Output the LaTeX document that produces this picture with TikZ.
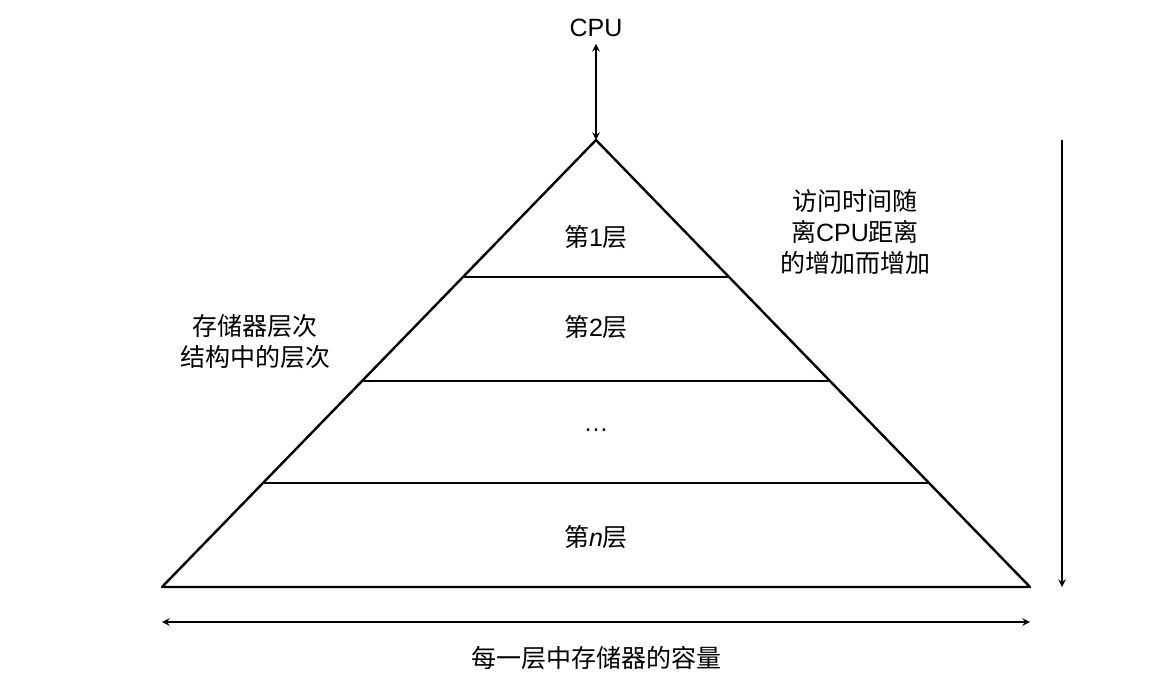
\documentclass[tikz,border=0pt]{standalone}
\usepackage{fontspec}
\setmainfont{Noto Sans CJK SC}
\newfontfamily\lat{Liberation Sans}
\begin{document}
\begin{tikzpicture}[x=0.5pt,y=-0.5pt,
  ln/.style={line width=1.2pt},
  ar/.style={line width=0.7pt,<->,>=stealth},
  lbl/.style={font=\fontsize{12.5}{15.5}\selectfont,align=center}]
\useasboundingbox (0,0) rectangle (1174,687);
\coordinate (A) at (596,140);
\coordinate (L) at (162,587);
\coordinate (R) at (1030,587);
\draw[ln,line join=round] (A) -- (L) -- (R) -- cycle;
\coordinate (l1) at (463,277); \coordinate (r1) at (729,277);
\coordinate (l2) at (362,381); \coordinate (r2) at (830,381);
\coordinate (l3) at (263,483); \coordinate (r3) at (929,483);
\draw[ln] (l1)--(r1) (l2)--(r2) (l3)--(r3);
\node[lbl] (cpu) at (596,28) {{\lat CPU}};
\draw[ar] (cpu.south) -- (A);
\node[lbl] (t1) at (596,237) {第{\lat 1}层};
\node[lbl] (t2) at (596,327) {第{\lat 2}层};
\node[lbl] (t3) at (596,430) {{\lat\textellipsis}};
\node[lbl] (t4) at (596,537) {第{\lat\itshape n}层};
\node[lbl] (lt) at (255,342) {存储器层次\\结构中的层次};
\node[lbl] (rt) at (855,232) {访问时间随\\离{\lat CPU}距离\\的增加而增加};
\coordinate (v1) at (1062,140); \coordinate (v2) at (1062,587);
\draw[line width=0.7pt,->,>=stealth] (v1) -- (v2);
\coordinate (h1) at (162,622); \coordinate (h2) at (1030,622);
\draw[ar] (h1) -- (h2);
\node[lbl] (bt) at (596,658) {每一层中存储器的容量};
\end{tikzpicture}
\end{document}
